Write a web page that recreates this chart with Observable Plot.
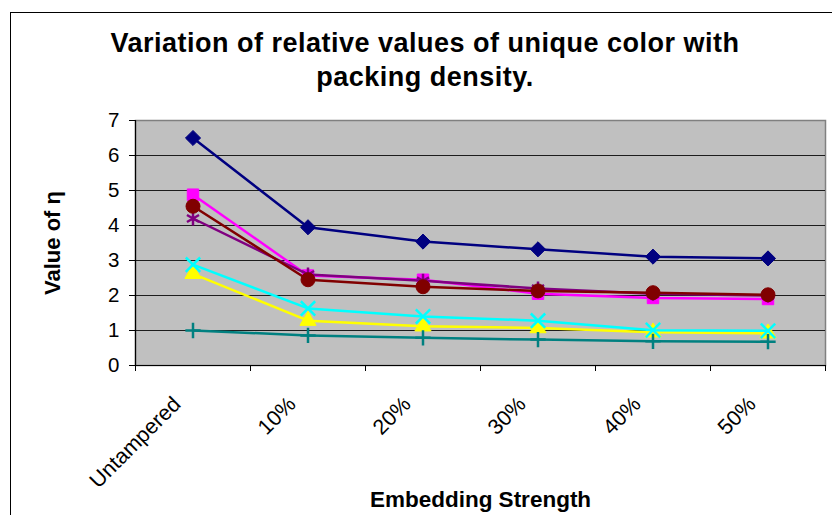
<!DOCTYPE html>
<html><head><meta charset="utf-8">
<script src="https://cdn.jsdelivr.net/npm/d3@7"></script>
<script src="https://cdn.jsdelivr.net/npm/@observablehq/plot@0.6"></script>
<style>
body{margin:0;background:#fff;font-family:Arial,"Liberation Sans",sans-serif;}
#wrap{position:relative;width:832px;height:515px;overflow:hidden;}
#border{position:absolute;left:10px;top:12px;width:830px;height:520px;border:1px solid #000;box-sizing:border-box;pointer-events:none;}
#title{position:relative;height:108px;box-sizing:border-box;padding-top:26px;padding-left:18px;text-align:center;font-weight:bold;font-size:27px;letter-spacing:0.5px;line-height:34px;color:#000;}
#chart{position:relative;}
</style></head><body>
<div id="wrap"><div id="border"></div>
<div id="title">Variation of relative values of unique color with<br>packing density.</div>
<div id="chart"></div></div>
<script>
const categories = ["Untampered","10%","20%","30%","40%","50%"];
const yTicks = [0,1,2,3,4,5,6,7];
const navyDiamond   = [6.5, 3.95, 3.54, 3.32, 3.11, 3.06];
const magentaSquare = [4.88, 2.57, 2.45, 2.05, 1.93, 1.9];
const yellowTriangle= [2.62, 1.28, 1.12, 1.07, 0.95, 0.92];
const cyanX         = [2.88, 1.63, 1.4, 1.28, 1.01, 0.99];
const purpleStar    = [4.2, 2.6, 2.42, 2.2, 2.05, 2.0];
const maroonCircle  = [4.55, 2.45, 2.25, 2.13, 2.08, 2.02];
const tealPlus      = [1.0, 0.86, 0.79, 0.74, 0.69, 0.68];
const xTitle = "Embedding Strength";
const yTitle = "Value of η";

const series = [
  {values: navyDiamond,    color:"#000080", symbol:"diamond2", r:6.8, filled:true},
  {values: magentaSquare,  color:"#FF00FF", symbol:"square2",  r:7.3, filled:true},
  {values: yellowTriangle, color:"#FFFF00", symbol:"triangle", r:6,   filled:true},
  {values: cyanX,          color:"#00FFFF", symbol:"times",    r:6.6, filled:false},
  {values: purpleStar,     color:"#800080", symbol:"asterisk", r:6.6, filled:false},
  {values: maroonCircle,   color:"#800000", symbol:"circle",   r:7,   filled:true},
  {values: tealPlus,       color:"#008080", symbol:"plus",     r:5,   filled:false}
];

const marks = [
  Plot.frame({fill:"#C0C0C0", stroke:"#808080", strokeWidth:1.5}),
  Plot.ruleY(yTicks.filter(t => t > 0 && t < 7), {stroke:"#000", strokeWidth:1, strokeOpacity:0.85}),
  Plot.ruleX([0], {stroke:"#000", strokeWidth:1.2}),
  Plot.ruleY([0], {stroke:"#000", strokeWidth:1.2}),
  Plot.axisY({ticks: yTicks, tickSize:6, tickFormat: () => "", label:null}),
  Plot.text(yTicks, {y: d => d, frameAnchor:"left", textAnchor:"end", lineAnchor:"middle", dx:-16, fontSize:20.5}),
  Plot.axisX({ticks: d3.range(0, categories.length + 1), tickSize:6, tickFormat: () => "", label:null}),
  Plot.text(categories, {x: (d, i) => i + 0.5, frameAnchor:"bottom", lineAnchor:"bottom", rotate:-45, textAnchor:"end", dx:-11, dy:40, fontSize:21.5}),
  Plot.text([xTitle], {frameAnchor:"bottom", lineAnchor:"middle", textAnchor:"middle", dx:0, dy:134, fontSize:22.5, fontWeight:"bold"}),
  Plot.text([yTitle], {y: [3.5], frameAnchor:"left", lineAnchor:"middle", textAnchor:"middle", rotate:-90, dx:-83, fontSize:22, fontWeight:"bold"})
];

series.forEach(s => {
  const rows = s.values.map((v, i) => ({x: i + 0.5, y: v}));
  marks.push(Plot.line(rows, {x:"x", y:"y", stroke:s.color, strokeWidth:2.5}));
  marks.push(Plot.dot(rows, {x:"x", y:"y", symbol:() => s.symbol, r:s.r,
    fill: s.filled ? s.color : "none", stroke: s.color, strokeWidth: s.filled ? 1 : 2.5}));
});

const chart = Plot.plot({
  width: 832, height: 407,
  marginLeft: 135, marginRight: 7, marginTop: 12, marginBottom: 150,
  x: {domain:[0, categories.length], axis:null},
  y: {domain:[0, 7], axis:null},
  symbol: {type:"identity"},
  style: {fontFamily:"Arial, 'Liberation Sans', sans-serif", color:"#000", background:"transparent", overflow:"visible"},
  marks
});
document.getElementById("chart").appendChild(chart);
</script>
</body></html>
